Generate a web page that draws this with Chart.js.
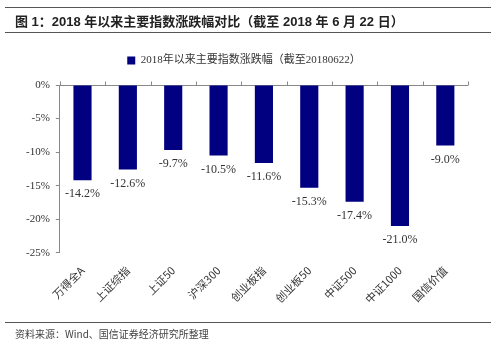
<!DOCTYPE html>
<html>
<head>
<meta charset="utf-8">
<script src="https://cdn.jsdelivr.net/npm/chart.js@4"></script>
<style>
    body { margin: 0; background: #fff; }
    #wrap { position: relative; width: 499px; height: 346px; overflow: hidden; }
    #chart { position: absolute; left: 0; top: 0; }
    .rule { position: absolute; left: 5px; width: 486px; height: 1px; background: #555; }
    #title { position: absolute; left: 15px; top: 11px; font: bold 13px "Liberation Sans", "Noto Sans CJK SC", sans-serif; color: #222; white-space: nowrap; }
    #source { position: absolute; left: 15px; top: 326px; font: 10px "Noto Sans CJK SC", sans-serif; color: #444; white-space: nowrap; }
</style>
</head>
<body>
<div id="wrap">
    <canvas id="chart" width="499" height="346"></canvas>
    <div class="rule" style="top:7px"></div>
    <div id="title">图 1：2018 年以来主要指数涨跌幅对比（截至 2018 年 6 月 22 日）</div>
    <div class="rule" style="top:32px"></div>
    <div class="rule" style="top:322px"></div>
    <div id="source">资料来源：Wind、国信证券经济研究所整理</div>
</div>
<script>
// Chart data
const categories = ['万得全A', '上证综指', '上证50', '沪深300', '创业板指', '创业板50', '中证500', '中证1000', '国信价值'];
const changes = [-14.2, -12.6, -9.7, -10.5, -11.6, -15.3, -17.4, -21.0, -9.0];
const seriesName = '2018年以来主要指数涨跌幅（截至20180622）';
const yTicks = [0, -5, -10, -15, -20, -25];

const serifFont = '"Liberation Serif", "Noto Sans CJK SC", serif';

// Value labels under each bar end, plus small tick marks on the zero line
const valueLabels = {
    id: 'valueLabels',
    afterDatasetsDraw(chart) {
        const ctx = chart.ctx;
        const meta = chart.getDatasetMeta(0);
        const x = chart.scales.x;
        const y0 = Math.round(chart.scales.y.getPixelForValue(0)) + 0.5;

        ctx.save();
        ctx.strokeStyle = '#888';
        ctx.lineWidth = 1;
        ctx.beginPath();
        for (let i = 0; i <= categories.length; i++) {
            const px = Math.round(x.getPixelForValue(i - 0.5)) + 0.5;
            ctx.moveTo(px, y0);
            ctx.lineTo(px, y0 - 4);
        }
        ctx.stroke();

        ctx.font = '12px ' + serifFont;
        ctx.fillStyle = '#333';
        ctx.textAlign = 'center';
        ctx.textBaseline = 'middle';
        meta.data.forEach((bar, i) => {
            ctx.fillText(changes[i].toFixed(1) + '%', bar.x, bar.y + 14);
        });
        ctx.restore();
    }
};

// Extra gap between legend and plot
const legendGap = {
    id: 'legendGap',
    beforeInit(chart) {
        const fit = chart.legend.fit;
        chart.legend.fit = function() {
            fit.bind(chart.legend)();
            this.height += 9;
        };
    }
};

const ctx = document.getElementById('chart').getContext('2d');
new Chart(ctx, {
    type: 'bar',
    data: {
        labels: categories,
        datasets: [{
            label: seriesName,
            data: changes,
            backgroundColor: '#000080',
            borderWidth: 0,
            categoryPercentage: 1,
            barPercentage: 0.4
        }]
    },
    options: {
        responsive: false,
        animation: false,
        layout: {
            padding: { top: 41, left: 20, right: 31, bottom: 37 }
        },
        plugins: {
            legend: {
                display: true,
                position: 'top',
                labels: {
                    boxWidth: 8,
                    boxHeight: 8,
                    padding: 14,
                    color: '#333',
                    font: { family: serifFont, size: 11 }
                }
            },
            tooltip: { enabled: false }
        },
        scales: {
            x: {
                grid: { display: false },
                border: { display: false },
                ticks: {
                    color: '#333',
                    minRotation: 45,
                    maxRotation: 45,
                    font: { family: '"Noto Sans CJK SC", sans-serif', size: 11 }
                }
            },
            y: {
                min: -25,
                max: 0,
                afterBuildTicks: axis => {
                    axis.ticks = yTicks.map(v => ({ value: v }));
                },
                border: { display: true, color: '#888' },
                grid: {
                    color: c => c.tick && c.tick.value === 0 ? '#888' : 'rgba(0,0,0,0)',
                    tickColor: '#888',
                    tickLength: 4
                },
                ticks: {
                    color: '#333',
                    padding: 6,
                    font: { family: serifFont, size: 11 },
                    callback: v => v + '%'
                }
            }
        }
    },
    plugins: [valueLabels, legendGap]
});
</script>
</body>
</html>
